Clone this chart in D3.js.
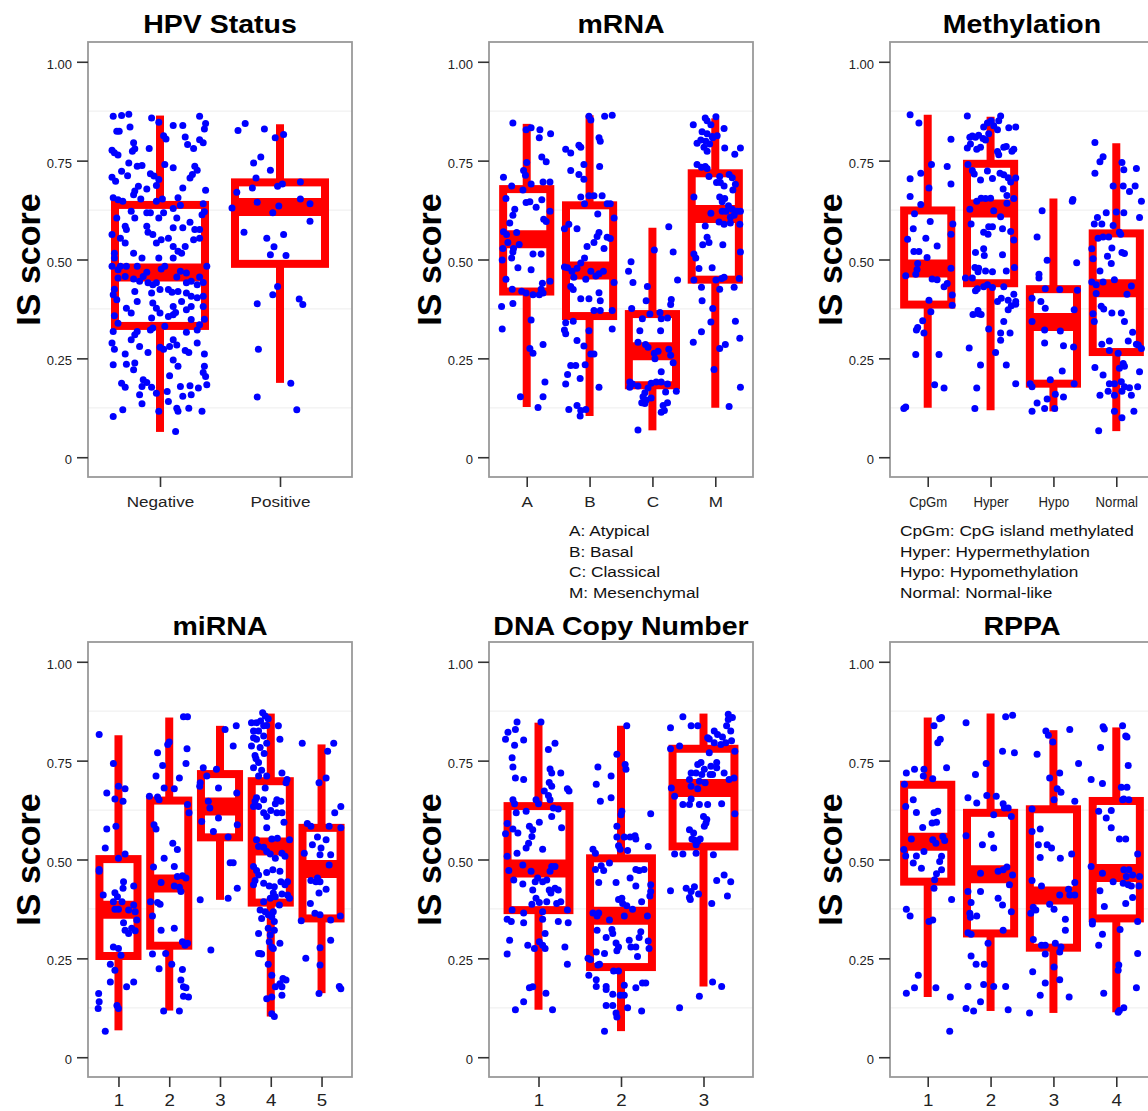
<!DOCTYPE html>
<html><head><meta charset="utf-8">
<script src="https://cdn.jsdelivr.net/npm/d3@7"></script>
<style>
body{margin:0;background:#fff}
svg{display:block;background:#fff}
text{font-family:"Liberation Sans",Arial,Helvetica,sans-serif}
</style>
</head><body>
<svg id="chart" width="1148" height="1111"></svg>
<script>
// IS score by subtype: box statistics are [lower whisker, Q1, median, Q3, upper whisker];
// points are [jitter offset in category units, IS score].

const hpvGroups = ["Negative", "Positive"];
const hpvBoxes = [[0.064,0.332,0.467,0.638,0.864],[0.188,0.489,0.633,0.695,0.842]];
const hpvPoints = [
[[-.39,.862],[-.32,.864],[-.26,.867],[-.07,.858],[-.01,.847],[.33,.862],[.11,.839],[.19,.839],[.38,.844],[.37,.830],[-.36,.824],[-.34,.824],[-.25,.835],[.03,.813],[.05,.805],[.21,.810],[.23,.791],[.28,.781],[.33,.803],[.36,.795],[-.22,.795],[-.21,.780],[-.23,.774],[-.09,.781],[-.40,.776],[-.38,.770],[-.35,.764],[-.26,.744],[-.19,.736],[-.15,.738],[.04,.740],[.11,.732],[.29,.736],[.31,.726],[.27,.715],[.25,.706],[-.08,.717],[-.05,.711],[-.32,.723],[-.27,.712],[-.40,.708],[-.37,.698],[-.01,.702],[-.03,.687],[-.18,.685],[-.21,.673],[-.22,.664],[-.11,.678],[.19,.681],[.38,.675],[-.39,.656],[-.35,.651],[-.31,.647],[-.16,.653],[-.03,.647],[.02,.653],[.15,.656],[.17,.637],[.11,.629],[.36,.641],[.37,.621],[.35,.613],[-.24,.622],[-.21,.605],[-.36,.605],[-.11,.618],[-.08,.618],[.03,.618],[-.01,.605],[.14,.605],[.25,.594],[.29,.576],[-.11,.584],[-.10,.569],[-.06,.563],[-.29,.584],[-.28,.576],[-.40,.563],[.11,.580],[.19,.580],[.33,.576],[-.33,.554],[-.29,.542],[-.22,.516],[-.03,.542],[.01,.550],[.07,.554],[.11,.533],[.15,.521],[.18,.516],[.21,.533],[.28,.550],[.33,.554],[-.38,.504],[-.38,.516],[-.15,.504],[-.01,.504],[.11,.504],[-.40,.483],[-.33,.483],[-.28,.483],[-.19,.483],[.01,.476],[.04,.483],[.17,.470],[.22,.466],[.39,.483],[.33,.456],[.36,.442],[-.35,.453],[-.29,.457],[-.22,.451],[-.17,.445],[-.14,.457],[-.10,.441],[-.06,.436],[-.11,.468],[-.03,.441],[-.35,.474],[.26,.445],[.31,.436],[.14,.456],[.22,.441],[-.38,.425],[-.39,.411],[-.36,.398],[-.21,.419],[-.19,.394],[-.07,.415],[0,.424],[.07,.424],[.10,.417],[.15,.419],[.22,.415],[.26,.407],[.31,.403],[.36,.407],[-.28,.377],[-.24,.365],[-.06,.390],[-.03,.377],[0,.365],[.11,.381],[.13,.366],[.18,.394],[.22,.373],[.26,.381],[.36,.381],[-.38,.358],[-.35,.339],[-.39,.318],[-.19,.318],[-.21,.310],[-.07,.352],[-.06,.327],[-.08,.322],[.07,.356],[.11,.360],[.26,.348],[.33,.335],[.37,.349],[.31,.322],[.22,.316],[.04,.331],[-.40,.289],[-.38,.273],[-.24,.297],[-.17,.280],[-.10,.265],[0,.278],[.03,.273],[.11,.297],[.14,.284],[.08,.280],[.21,.270],[.24,.265],[.31,.289],[.37,.261],[-.29,.261],[-.39,.234],[-.28,.235],[-.22,.221],[-.21,.238],[.11,.246],[.15,.230],[.08,.206],[.37,.230],[.36,.214],[.38,.204],[-.32,.187],[-.29,.177],[-.14,.196],[-.11,.189],[-.15,.179],[-.07,.177],[-.03,.162],[.06,.166],[.17,.179],[.19,.154],[.25,.181],[.26,.158],[.32,.175],[.39,.183],[-.17,.158],[-.15,.135],[.07,.141],[-.39,.103],[-.31,.120],[-.01,.116],[.14,.124],[.15,.116],[.24,.124],[.35,.116],[.13,.065]],
[[-.35,.826],[-.29,.844],[-.13,.830],[-.04,.808],[.03,.816],[-.22,.744],[-.16,.759],[-.08,.726],[-.20,.706],[-.36,.670],[-.23,.681],[-.40,.630],[-.19,.645],[-.02,.685],[.02,.691],[.17,.696],[.17,.653],[.25,.641],[-.01,.635],[-.06,.618],[.25,.597],[-.30,.569],[-.11,.554],[.03,.563],[-.05,.532],[-.08,.512],[.05,.510],[-.02,.432],[-.06,.411],[-.19,.388],[.16,.400],[.19,.386],[-.18,.273],[.09,.187],[-.19,.152],[.14,.120]]
];

const mrnaGroups = ["A", "B", "C", "M"];
const mrnaBoxes = [[0.127,0.419,0.551,0.678,0.843],[0.104,0.357,0.472,0.637,0.865],[0.068,0.182,0.268,0.362,0.580],[0.125,0.449,0.615,0.718,0.857]];
const mrnaPoints = [
[[-.22,.845],[-.01,.828],[.07,.833],[.21,.828],[.20,.808],[.38,.818],[.24,.759],[.31,.747],[0,.745],[-.05,.725],[-.02,.713],[-.37,.708],[-.24,.686],[-.06,.676],[.07,.691],[.26,.696],[.37,.696],[-.33,.654],[-.01,.644],[.05,.646],[.15,.632],[.24,.651],[.37,.622],[-.19,.627],[-.22,.612],[-.27,.592],[-.37,.570],[-.32,.563],[.27,.602],[.31,.596],[-.16,.568],[-.30,.543],[-.38,.528],[-.21,.528],[-.12,.538],[-.39,.499],[-.24,.504],[-.22,.519],[.10,.514],[.23,.514],[-.14,.479],[.07,.474],[-.33,.450],[-.23,.425],[-.08,.420],[-.22,.389],[-.01,.415],[.10,.411],[.25,.440],[.23,.425],[.26,.415],[.37,.445],[.20,.411],[-.40,.381],[-.39,.324],[.07,.347],[.05,.275],[.10,.263],[.26,.285],[.29,.190],[.26,.153],[-.10,.153],[.18,.126]],
[[-.01,.862],[.02,.853],[.24,.862],[.36,.865],[.15,.808],[.17,.799],[-.38,.779],[-.30,.769],[-.17,.789],[-.14,.784],[-.09,.740],[.16,.735],[-.30,.725],[-.17,.715],[-.09,.703],[-.01,.661],[.07,.661],[.20,.661],[.28,.641],[.33,.641],[-.14,.658],[-.08,.641],[.39,.605],[-.33,.589],[-.40,.578],[-.20,.578],[.13,.615],[.15,.568],[.12,.558],[.07,.543],[-.04,.533],[.28,.556],[.33,.553],[.23,.528],[-.08,.504],[-.40,.481],[-.35,.479],[-.28,.470],[-.20,.478],[-.14,.491],[-.25,.455],[-.30,.432],[-.26,.424],[-.06,.450],[.02,.470],[.10,.458],[.15,.464],[.22,.470],[.39,.442],[-.14,.401],[-.01,.401],[.15,.416],[.17,.396],[.07,.371],[.17,.371],[.36,.371],[-.38,.340],[-.26,.344],[-.40,.322],[-.38,.312],[-.01,.320],[.36,.324],[-.20,.295],[-.09,.281],[.02,.261],[.07,.261],[-.30,.232],[-.22,.232],[-.07,.234],[-.35,.209],[-.15,.199],[-.38,.185],[.15,.177],[-.33,.121],[-.14,.118],[-.06,.121],[-.15,.104],[-.20,.131]],
[[-.34,.494],[-.38,.470],[-.31,.442],[-.08,.432],[.26,.583],[.03,.524],[.33,.519],[.40,.448],[-.10,.396],[.30,.399],[.29,.386],[-.33,.376],[-.16,.350],[-.04,.362],[.12,.366],[.14,.350],[.24,.352],[-.20,.320],[.13,.320],[-.23,.291],[-.11,.285],[-.07,.278],[.03,.263],[.09,.268],[.26,.273],[.29,.258],[.04,.249],[.33,.239],[.14,.216],[-.36,.190],[-.32,.185],[-.23,.180],[-.36,.177],[-.02,.187],[.06,.190],[.14,.190],[.24,.185],[.38,.167],[.21,.165],[-.07,.175],[-.12,.163],[-.15,.153],[-.10,.145],[-.17,.138],[-.02,.150],[-.12,.136],[.17,.131],[.24,.138],[.14,.114],[.19,.118],[-.23,.069]],
[[-.35,.841],[-.16,.858],[-.13,.851],[-.07,.841],[.01,.861],[.14,.831],[-.21,.823],[-.13,.818],[-.05,.811],[-.29,.794],[-.23,.802],[-.15,.799],[-.09,.792],[-.04,.808],[.03,.813],[-.18,.784],[-.13,.774],[.15,.782],[.31,.766],[.40,.782],[-.29,.740],[-.22,.733],[-.16,.735],[-.13,.730],[-.10,.710],[.07,.710],[.02,.695],[.08,.695],[.14,.686],[.22,.715],[.27,.707],[.32,.690],[.28,.676],[-.34,.658],[.07,.658],[.15,.654],[.11,.646],[.21,.636],[-.07,.617],[.11,.622],[.17,.622],[.27,.627],[.35,.622],[.40,.622],[.30,.612],[.24,.607],[-.16,.585],[.06,.595],[.14,.589],[.24,.592],[.39,.589],[-.13,.556],[-.10,.543],[-.20,.537],[.12,.537],[-.34,.514],[.40,.519],[-.31,.504],[-.26,.477],[-.05,.479],[-.34,.448],[.01,.448],[.10,.452],[.14,.455],[.38,.452],[-.22,.430],[.07,.425],[.30,.430],[-.21,.396],[-.04,.376],[-.07,.342],[.32,.344],[-.22,.317],[.39,.301],[-.35,.291],[.16,.285],[.07,.275],[-.02,.222],[.40,.177],[.22,.128]]
];
const mrnaLegend = ["A: Atypical", "B: Basal", "C: Classical", "M: Mesenchymal"];

const methGroups = ["CpGm", "Hyper", "Hypo", "Normal"];
const methBoxes = [[0.125,0.386,0.477,0.624,0.866],[0.119,0.440,0.629,0.742,0.861],[0.116,0.186,0.342,0.425,0.654],[0.066,0.266,0.427,0.566,0.794]];
const methPoints = [
[[-.28,.866],[-.14,.845],[.37,.804],[-.11,.718],[.06,.740],[.31,.735],[.37,.691],[-.28,.704],[.02,.681],[-.28,.659],[-.11,.639],[-.21,.616],[.04,.596],[.40,.590],[-.23,.578],[.37,.564],[.15,.534],[-.03,.554],[-.32,.551],[-.22,.520],[-.14,.520],[-.01,.505],[-.16,.490],[-.17,.475],[-.35,.459],[-.19,.463],[.07,.451],[.15,.449],[.26,.431],[.37,.478],[.31,.439],[.39,.410],[.39,.384],[.02,.397],[.05,.368],[-.08,.345],[-.16,.328],[-.18,.322],[-.06,.314],[-.19,.260],[.18,.260],[.11,.183],[.26,.175],[-.35,.127],[-.38,.123]],
[[-.37,.863],[-.11,.835],[-.05,.845],[.01,.851],[.16,.863],[.13,.851],[.05,.838],[.11,.828],[.29,.833],[.40,.835],[-.29,.812],[-.33,.809],[-.24,.809],[-.19,.814],[-.12,.806],[-.03,.818],[-.37,.782],[-.32,.792],[-.22,.779],[-.16,.784],[-.08,.802],[.21,.784],[.25,.786],[.37,.779],[.11,.773],[.13,.765],[.34,.774],[-.36,.740],[-.29,.725],[-.26,.716],[-.16,.701],[-.05,.724],[.03,.705],[.15,.718],[.21,.714],[.28,.707],[.32,.696],[.20,.678],[.26,.662],[.37,.654],[.40,.706],[-.33,.627],[-.22,.647],[-.15,.655],[-.08,.654],[0,.655],[.05,.623],[.16,.608],[.26,.642],[-.31,.590],[-.11,.569],[-.03,.583],[.03,.583],[.19,.578],[-.04,.564],[.32,.571],[.37,.549],[-.24,.518],[-.11,.527],[.19,.512],[-.10,.510],[-.25,.480],[-.19,.478],[-.20,.469],[-.08,.471],[.03,.469],[.25,.471],[.38,.480],[-.40,.453],[-.29,.453],[-.21,.426],[-.11,.431],[-.05,.436],[.03,.429],[.21,.431],[-.24,.421],[.17,.402],[.28,.397],[.37,.412],[.40,.394],[.40,.387],[.33,.383],[.11,.394],[-.28,.361],[-.19,.363],[-.15,.361],[-.20,.371],[.28,.373],[.21,.343],[.16,.314],[.31,.314],[-.03,.324],[.16,.296],[.08,.265],[-.34,.276],[-.16,.233],[.25,.233],[.40,.186],[-.22,.175],[-.25,.123]],
[[-.18,.623],[-.26,.557],[.31,.652],[.30,.647],[-.10,.498],[-.23,.463],[-.23,.453],[.37,.492],[-.13,.426],[-.34,.402],[-.20,.394],[-.13,.377],[-.34,.343],[-.14,.322],[.11,.319],[-.14,.289],[.16,.282],[.33,.373],[.38,.422],[.32,.279],[-.37,.186],[-.34,.178],[-.05,.196],[.14,.218],[.33,.186],[-.26,.137],[-.10,.147],[.03,.159],[.16,.152],[-.34,.116],[-.14,.123],[.02,.123],[.10,.424]],
[[-.34,.796],[-.26,.747],[-.21,.760],[-.34,.718],[.09,.745],[.12,.727],[.32,.730],[-.05,.686],[.11,.686],[.21,.672],[.30,.686],[.40,.647],[.37,.606],[-.35,.590],[-.30,.606],[-.23,.590],[-.16,.618],[0,.620],[.12,.618],[-.05,.586],[.05,.569],[-.29,.554],[-.21,.557],[-.12,.557],[.07,.564],[-.39,.527],[-.07,.529],[.09,.518],[.13,.515],[-.14,.508],[-.08,.490],[-.37,.502],[-.26,.471],[-.32,.436],[-.39,.443],[-.21,.443],[-.03,.449],[.24,.433],[.17,.412],[-.32,.414],[-.24,.382],[-.20,.375],[-.37,.363],[-.35,.343],[-.07,.365],[.08,.365],[.13,.343],[.26,.316],[-.11,.294],[.19,.294],[-.23,.286],[.35,.284],[.40,.275],[.32,.286],[.03,.263],[-.11,.270],[.11,.237],[.13,.230],[.05,.225],[-.34,.227],[-.21,.208],[-.11,.186],[-.03,.186],[.08,.191],[.21,.176],[.13,.178],[.09,.167],[-.13,.167],[-.03,.157],[.34,.178],[.37,.216],[-.26,.157],[.24,.157],[-.03,.116],[.09,.100],[.28,.116],[-.28,.067]]
];
const methLegend = ["CpGm: CpG island methylated", "Hyper: Hypermethylation", "Hypo: Hypomethylation", "Normal: Normal-like"];

const mirnaGroups = ["1", "2", "3", "4", "5"];
const mirnaBoxes = [[0.068,0.256,0.373,0.501,0.814],[0.118,0.282,0.439,0.649,0.859],[0.398,0.556,0.634,0.716,0.838],[0.103,0.391,0.533,0.698,0.869],[0.162,0.351,0.476,0.580,0.791]];
const mirnaPoints = [
[[-.38,.816],[-.10,.743],[-.23,.668],[0,.685],[.13,.679],[-.07,.653],[.09,.647],[-.05,.584],[-.23,.577],[-.26,.529],[.13,.514],[0,.503],[-.38,.470],[-.38,.475],[.10,.444],[.30,.433],[.09,.427],[-.07,.416],[-.02,.406],[-.30,.410],[-.10,.393],[.07,.393],[.30,.385],[.33,.368],[-.07,.374],[0,.374],[.20,.372],[.36,.347],[.10,.340],[.13,.321],[.26,.326],[.33,.320],[.20,.313],[-.10,.279],[0,.275],[.05,.258],[-.16,.235],[-.07,.220],[-.16,.190],[.16,.178],[.30,.190],[-.03,.131],[0,.123],[-.39,.161],[-.38,.140],[-.40,.123],[-.26,.066]],
[[.28,.861],[.36,.861],[0,.797],[-.03,.791],[.35,.780],[-.23,.770],[.33,.743],[-.13,.738],[-.26,.711],[.20,.706],[.10,.679],[-.10,.681],[-.39,.660],[-.23,.658],[-.20,.651],[.36,.639],[.39,.618],[-.30,.588],[-.26,.577],[.07,.541],[.16,.525],[-.10,.503],[-.31,.481],[.10,.482],[-.16,.442],[.16,.457],[.26,.459],[.33,.453],[.10,.433],[.20,.430],[.23,.419],[-.37,.393],[-.23,.391],[-.18,.387],[-.33,.357],[-.16,.321],[.10,.326],[.26,.292],[.31,.283],[.36,.288],[-.33,.261],[-.07,.262],[.05,.235],[-.20,.224],[.26,.222],[.23,.195],[.28,.178],[.33,.176],[.28,.154],[.38,.152],[-.11,.117],[.20,.117]],
[[.10,.829],[.32,.838],[.26,.787],[-.07,.728],[-.33,.732],[-.26,.711],[-.39,.694],[-.03,.681],[-.40,.685],[-.23,.647],[-.20,.630],[-.03,.605],[-.36,.596],[.34,.588],[-.13,.571],[.33,.668],[.16,.557],[.20,.492],[.26,.492],[.34,.427],[-.39,.398],[.16,.402],[-.18,.271]],
[[-.16,.871],[-.11,.863],[-.05,.856],[-.20,.850],[-.28,.846],[-.38,.846],[-.14,.838],[-.08,.839],[-.34,.825],[-.24,.825],[.15,.838],[-.14,.812],[-.34,.808],[-.28,.804],[-.38,.787],[-.08,.794],[.18,.804],[-.21,.783],[-.13,.768],[-.31,.763],[-.29,.755],[-.24,.745],[-.34,.732],[-.18,.726],[-.24,.711],[-.08,.711],[.22,.719],[.32,.702],[.30,.694],[-.11,.681],[-.28,.656],[-.31,.647],[-.14,.651],[-.34,.634],[-.24,.634],[.12,.651],[.20,.647],[.09,.641],[0,.624],[-.14,.618],[-.08,.609],[.12,.618],[.22,.618],[.26,.594],[-.08,.580],[-.28,.550],[.02,.552],[.13,.554],[.37,.550],[-.24,.533],[-.14,.531],[-.08,.520],[-.01,.514],[.09,.503],[.22,.516],[.28,.508],[-.34,.482],[-.28,.472],[-.24,.461],[-.08,.467],[.04,.474],[.18,.470],[-.31,.447],[-.34,.436],[-.14,.440],[-.03,.433],[.07,.431],[.20,.444],[.28,.436],[.33,.444],[.05,.415],[.09,.406],[.22,.413],[.33,.410],[.37,.402],[-.14,.393],[-.01,.402],[-.21,.372],[-.11,.368],[-.05,.360],[.05,.368],[.17,.385],[-.18,.351],[.02,.355],[.07,.343],[-.05,.326],[.07,.321],[-.01,.309],[-.24,.313],[-.03,.292],[.02,.279],[.18,.288],[.05,.275],[-.24,.262],[-.18,.261],[-.05,.235],[-.21,.262],[.02,.207],[.09,.178],[.18,.186],[.24,.199],[.30,.195],[.22,.178],[.02,.152],[-.08,.148],[.22,.157],[.02,.110],[.07,.103]],
[[-.38,.794],[.24,.794],[.12,.774],[.09,.706],[-.05,.694],[.38,.634],[.26,.618],[.38,.580],[.15,.584],[-.28,.591],[-.21,.584],[-.08,.557],[.09,.550],[-.18,.537],[.18,.512],[-.34,.516],[-.01,.529],[-.03,.512],[.15,.486],[-.08,.453],[-.21,.447],[-.11,.444],[-.03,.444],[.09,.425],[-.05,.415],[-.22,.389],[-.13,.364],[-.03,.360],[.18,.347],[-.40,.345],[.37,.357],[.18,.296],[-.03,.277],[-.03,.233],[-.31,.250],[-.05,.161],[.35,.179],[.38,.173]]
];

const cnGroups = ["1", "2", "3"];
const cnBoxes = [[0.120,0.372,0.477,0.635,0.846],[0.066,0.228,0.358,0.503,0.838],[0.179,0.533,0.681,0.780,0.869]];
const cnPoints = [
[[-.40,.804],[-.37,.822],[-.28,.829],[-.26,.848],[-.32,.757],[-.31,.734],[-.29,.789],[-.28,.706],[-.18,.802],[-.18,.702],[.03,.848],[.12,.778],[.20,.794],[.14,.729],[.16,.719],[.27,.719],[.13,.695],[.16,.685],[.35,.679],[.37,.673],[.07,.673],[.12,.662],[.14,.651],[.18,.630],[.24,.628],[.16,.609],[.28,.580],[-.03,.651],[0,.641],[-.31,.651],[-.29,.641],[-.27,.618],[-.15,.622],[-.38,.591],[-.31,.577],[-.25,.567],[-.40,.565],[-.11,.584],[-.07,.575],[-.08,.558],[-.12,.541],[.01,.594],[-.15,.529],[.05,.526],[-.26,.516],[-.38,.508],[-.36,.472],[-.30,.448],[-.19,.486],[-.09,.470],[-.04,.444],[-.01,.453],[.05,.444],[.10,.448],[.14,.470],[.16,.482],[.20,.482],[.13,.423],[.15,.415],[.20,.427],[.24,.423],[-.07,.423],[-.03,.402],[-.08,.387],[.01,.391],[.05,.368],[.10,.393],[.22,.389],[.27,.393],[.35,.372],[-.32,.372],[-.19,.438],[-.18,.365],[-.38,.349],[-.33,.343],[-.18,.340],[.24,.343],[.36,.340],[.05,.349],[.08,.313],[-.35,.296],[-.38,.261],[-.13,.283],[.01,.292],[.05,.283],[.08,.275],[-.05,.275],[.32,.279],[.35,.235],[-.11,.176],[-.07,.178],[.09,.162],[-.18,.140],[-.28,.120],[.17,.120]],
[[.07,.838],[.05,.740],[.06,.728],[-.05,.766],[-.28,.734],[-.12,.711],[-.30,.690],[-.25,.647],[-.12,.656],[.01,.622],[0,.613],[-.05,.584],[.36,.616],[-.05,.557],[.04,.557],[.11,.557],[.17,.560],[.18,.552],[-.03,.535],[-.01,.526],[.08,.523],[.33,.533],[-.34,.526],[-.31,.516],[-.14,.491],[-.24,.484],[-.31,.475],[-.21,.472],[-.27,.442],[-.06,.442],[.18,.475],[.22,.472],[.28,.475],[.36,.436],[.36,.419],[.35,.408],[.18,.433],[.11,.453],[-.03,.399],[.01,.402],[.02,.389],[.07,.383],[.14,.374],[.25,.393],[-.34,.365],[-.29,.357],[-.27,.365],[.04,.357],[.32,.357],[-.14,.347],[-.29,.321],[-.11,.323],[-.10,.313],[-.18,.303],[.24,.317],[.22,.303],[-.06,.289],[-.03,.279],[-.05,.269],[.10,.296],[.12,.279],[.33,.294],[.34,.275],[.18,.279],[-.30,.266],[-.20,.262],[-.37,.247],[-.40,.250],[-.26,.235],[-.28,.233],[.20,.255],[-.09,.218],[-.03,.218],[-.39,.207],[-.30,.196],[-.30,.179],[-.18,.179],[-.18,.171],[-.10,.159],[.04,.182],[-.01,.157],[.04,.157],[.18,.176],[.26,.188],[.30,.188],[-.10,.131],[-.06,.112],[-.05,.102],[.08,.125],[.25,.117],[-.18,.131],[-.20,.066]],
[[-.40,.833],[-.25,.861],[-.15,.838],[-.07,.838],[.05,.808],[.07,.805],[.13,.825],[.17,.816],[.23,.810],[.28,.838],[.33,.825],[.30,.854],[.35,.859],[.30,.867],[.27,.795],[.34,.800],[.21,.791],[.13,.795],[-.29,.787],[-.40,.780],[.07,.770],[.38,.774],[-.03,.745],[-.07,.740],[.16,.745],[.09,.736],[.01,.728],[.16,.732],[-.15,.719],[-.09,.719],[-.02,.715],[.08,.715],[.11,.715],[.25,.719],[.37,.706],[-.39,.681],[-.17,.702],[-.05,.698],[-.15,.685],[.02,.694],[-.07,.679],[-.15,.653],[-.35,.660],[-.25,.639],[-.17,.639],[-.05,.639],[.05,.639],[.22,.641],[.38,.616],[0,.609],[.04,.601],[.03,.592],[.01,.584],[-.17,.575],[-.12,.567],[-.14,.552],[-.09,.537],[-.07,.546],[-.11,.549],[-.04,.552],[-.35,.514],[-.25,.514],[-.09,.516],[.12,.512],[-.40,.421],[-.21,.427],[-.15,.419],[-.11,.431],[-.17,.404],[-.06,.413],[-.16,.399],[.10,.389],[.29,.408],[.25,.461],[.16,.447],[.33,.444],[.31,.702],[-.29,.125],[-.05,.154],[.11,.190],[.22,.179]]
];

const rppaGroups = ["1", "2", "3", "4"];
const rppaBoxes = [[0.152,0.444,0.545,0.689,0.859],[0.117,0.313,0.463,0.618,0.869],[0.112,0.277,0.409,0.627,0.827],[0.114,0.351,0.466,0.648,0.834]];
const rppaPoints = [
[[.22,.859],[.19,.856],[.10,.838],[.16,.795],[.20,.804],[.30,.732],[-.34,.719],[-.21,.728],[-.06,.728],[-.07,.711],[.08,.704],[-.37,.690],[-.23,.651],[-.35,.634],[-.18,.619],[-.08,.581],[-.26,.552],[.10,.618],[.16,.622],[.14,.594],[.07,.592],[.24,.558],[.27,.548],[.08,.550],[.13,.541],[-.38,.525],[-.35,.509],[-.18,.509],[-.06,.520],[-.23,.491],[-.10,.478],[.22,.508],[.19,.495],[.22,.474],[.14,.464],[.11,.449],[.10,.427],[.38,.399],[-.34,.374],[-.28,.357],[.02,.343],[.08,.347],[-.15,.207],[-.21,.176],[-.34,.162],[.13,.176],[.36,.152],[.35,.066]],
[[-.39,.846],[.24,.861],[.35,.865],[.19,.774],[.38,.770],[-.07,.743],[-.24,.715],[-.36,.656],[-.22,.643],[-.06,.662],[.09,.660],[.20,.641],[.28,.630],[.33,.609],[.22,.630],[.05,.613],[.01,.563],[-.39,.560],[-.13,.537],[.05,.529],[.20,.474],[.26,.481],[.12,.470],[-.16,.465],[.35,.461],[.30,.436],[-.36,.419],[-.16,.419],[-.31,.391],[.12,.402],[.19,.385],[-.33,.364],[-.32,.354],[-.22,.357],[.33,.368],[.20,.321],[-.36,.315],[-.31,.311],[-.04,.288],[-.31,.256],[-.23,.235],[-.10,.235],[-.11,.184],[.05,.179],[-.36,.179],[.24,.179],[-.16,.140],[-.39,.123],[-.27,.117],[.28,.120]],
[[-.12,.825],[-.08,.814],[-.01,.797],[.26,.829],[.40,.743],[-.26,.766],[.10,.719],[-.06,.706],[.06,.679],[.12,.670],[.01,.651],[.34,.647],[-.34,.628],[-.21,.577],[-.34,.571],[-.10,.537],[-.24,.537],[-.03,.529],[-.21,.505],[.11,.503],[.29,.514],[-.34,.447],[-.19,.433],[.34,.442],[.24,.425],[.10,.410],[.26,.410],[.34,.410],[-.06,.387],[-.36,.364],[-.28,.372],[-.32,.379],[.01,.374],[.19,.349],[.19,.321],[-.32,.298],[-.19,.283],[-.13,.283],[.03,.288],[.12,.279],[.10,.266],[-.13,.261],[.01,.228],[-.33,.216],[-.13,.188],[.10,.196],[-.21,.157],[.25,.152],[-.38,.112]],
[[-.21,.836],[-.19,.830],[-.25,.783],[.10,.838],[.15,.812],[.17,.810],[.19,.738],[-.40,.702],[-.22,.692],[.08,.683],[.17,.683],[.20,.651],[.10,.651],[.12,.653],[-.28,.622],[-.08,.624],[-.16,.605],[-.08,.580],[.05,.552],[.15,.552],[-.40,.482],[.34,.514],[-.22,.465],[.12,.474],[.20,.474],[.26,.461],[.16,.457],[.37,.457],[-.05,.444],[.11,.440],[.19,.436],[.24,.433],[.36,.433],[-.26,.421],[.26,.404],[-.19,.381],[.15,.389],[-.38,.343],[.34,.343],[.06,.323],[-.38,.337],[-.22,.311],[-.28,.283],[.04,.233],[.03,.220],[.34,.262],[.32,.176],[-.20,.162],[.05,.118],[.12,.125],[.03,.114]]
];

const yTicks = [0, 0.25, 0.5, 0.75, 1];
const yMinor = [0.125, 0.375, 0.625, 0.875];

// panel grid: three columns, two rows
const colLeft = [88, 489, 890];
const rowTop = [42, 642];
const PW = 264, PH = 435;

const panels = [
  {title: "HPV Status", groups: hpvGroups, boxes: hpvBoxes, points: hpvPoints, col: 0, row: 0, xFont: 15, xScale: 1.14},
  {title: "mRNA", groups: mrnaGroups, boxes: mrnaBoxes, points: mrnaPoints, col: 1, row: 0, xFont: 15, xScale: 1.14, legend: mrnaLegend, legendX: 569},
  {title: "Methylation", groups: methGroups, boxes: methBoxes, points: methPoints, col: 2, row: 0, xFont: 14, xScale: 0.94, legend: methLegend, legendX: 900},
  {title: "miRNA", groups: mirnaGroups, boxes: mirnaBoxes, points: mirnaPoints, col: 0, row: 1, xFont: 17, xScale: 1.1},
  {title: "DNA Copy Number", groups: cnGroups, boxes: cnBoxes, points: cnPoints, col: 1, row: 1, xFont: 17, xScale: 1.1},
  {title: "RPPA", groups: rppaGroups, boxes: rppaBoxes, points: rppaPoints, col: 2, row: 1, xFont: 17, xScale: 1.1}
];

const RED = "#ff0000", BLUE = "#0000ff";
const svg = d3.select("#chart");

panels.forEach(p => {
  const left = colLeft[p.col], top = rowTop[p.row];
  const g = svg.append("g").attr("transform", `translate(${left},${top})`);

  const x = d3.scalePoint().domain(p.groups).range([0, PW]).padding(0.6);
  const step = x.step();
  const y = d3.scaleLinear().domain([-0.05, 1.05]).range([PH, 0]);

  // faint minor grid
  g.append("g").selectAll("line").data(yMinor).join("line")
    .attr("x1", 0).attr("x2", PW)
    .attr("y1", d => y(d)).attr("y2", d => y(d))
    .attr("stroke", "#f1f1f1").attr("stroke-width", 1.2);

  // boxplots
  const bw = 0.75 * step;
  const box = g.append("g").selectAll("g").data(p.boxes).join("g");
  box.each(function (b, i) {
    const s = d3.select(this), cx = x(p.groups[i]);
    s.append("line").attr("x1", cx).attr("x2", cx).attr("y1", y(b[0])).attr("y2", y(b[1]))
      .attr("stroke", RED).attr("stroke-width", 8);
    s.append("line").attr("x1", cx).attr("x2", cx).attr("y1", y(b[3])).attr("y2", y(b[4]))
      .attr("stroke", RED).attr("stroke-width", 8);
    s.append("rect").attr("x", cx - bw / 2).attr("y", y(b[3]))
      .attr("width", bw).attr("height", y(b[1]) - y(b[3]))
      .attr("fill", "#fff").attr("stroke", RED).attr("stroke-width", 8)
      .attr("stroke-linejoin", "miter");
    s.append("line").attr("x1", cx - bw / 2).attr("x2", cx + bw / 2)
      .attr("y1", y(b[2])).attr("y2", y(b[2]))
      .attr("stroke", RED).attr("stroke-width", 18);
  });

  // jittered points
  p.points.forEach((pts, i) => {
    const cx = x(p.groups[i]);
    g.append("g").selectAll("circle").data(pts).join("circle")
      .attr("cx", d => cx + d[0] * step)
      .attr("cy", d => y(d[1]))
      .attr("r", 3.5)
      .attr("fill", BLUE);
  });

  // panel border
  g.append("rect").attr("width", PW).attr("height", PH)
    .attr("fill", "none").attr("stroke", "#999").attr("stroke-width", 1.8);

  // y axis
  g.append("g")
    .call(d3.axisLeft(y).tickValues(yTicks)
      .tickFormat(d => d === 0 ? "0" : d3.format(".2f")(d))
      .tickSize(11).tickPadding(5))
    .call(a => a.select(".domain").remove())
    .call(a => a.selectAll(".tick line").attr("stroke", "#333").attr("stroke-width", 1.6))
    .call(a => a.selectAll(".tick text").attr("font-size", 13).attr("fill", "#222").attr("dy", "0.5em"));

  // x axis
  const labelBase = p.row === 0 ? 30 : 29;
  g.append("g").attr("transform", `translate(0,${PH})`)
    .call(d3.axisBottom(x).tickSize(10).tickSizeOuter(0))
    .call(a => a.select(".domain").remove())
    .call(a => a.selectAll(".tick line").attr("stroke", "#333").attr("stroke-width", 1.6))
    .call(a => a.selectAll(".tick text")
      .attr("font-size", p.xFont).attr("fill", "#222")
      .attr("y", 0).attr("dy", 0)
      .attr("transform", `translate(0,${labelBase}) scale(${p.xScale},1)`));

  // title
  g.append("text")
    .attr("transform", `translate(${PW / 2},${p.row === 0 ? -9 : -7.5}) scale(1.14,1)`)
    .attr("text-anchor", "middle").attr("font-size", 25).attr("font-weight", "bold")
    .attr("fill", "#000").text(p.title);

  // y axis title
  g.append("text")
    .attr("transform", `translate(-48,${PH / 2}) rotate(-90)`)
    .attr("text-anchor", "middle").attr("font-size", 34).attr("font-weight", "bold")
    .attr("fill", "#000").text("IS score");

  // abbreviation key under the panel
  if (p.legend) {
    svg.append("g").selectAll("text").data(p.legend).join("text")
      .attr("transform", (d, i) => `translate(${p.legendX},${536 + i * 20.7}) scale(1.15,1)`)
      .attr("font-size", 15).attr("fill", "#111").text(d => d);
  }
});
</script>
</body></html>
